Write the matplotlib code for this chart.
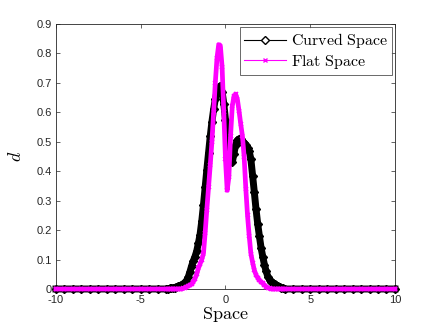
import numpy as np
import matplotlib
matplotlib.use('Agg')
import matplotlib.pyplot as plt
from matplotlib.lines import Line2D

plt.rcParams['font.family'] = ['Liberation Sans', 'DejaVu Sans']
plt.rcParams['mathtext.fontset'] = 'cm'

# sampled positions (tails coarse, centre fine)
space_left = [-10, -9.5, -9, -8.5, -8, -7.5, -7, -6.5, -6, -5.5, -5, -4.5, -4]
space_mid = [-3.5, -3.4, -3.3, -3.2, -3.1, -3.0, -2.9, -2.8, -2.7, -2.6,
             -2.5, -2.4, -2.3, -2.2, -2.1, -2.0, -1.9, -1.8, -1.7, -1.6,
             -1.5, -1.4, -1.3, -1.2, -1.1, -1.0, -0.9, -0.8, -0.7, -0.6,
             -0.5, -0.4, -0.3, -0.2, -0.1, 0.0, 0.1, 0.2, 0.3, 0.4,
             0.5, 0.6, 0.7, 0.8, 0.9, 1.0, 1.1, 1.2, 1.3, 1.4,
             1.5, 1.6, 1.7, 1.8, 1.9, 2.0, 2.1, 2.2, 2.3, 2.4,
             2.5, 2.6, 2.7, 2.8, 2.9, 3.0, 3.1, 3.2, 3.3, 3.4, 3.5]
space_right = [4, 4.5, 5, 5.5, 6, 6.5, 7, 7.5, 8, 8.5, 9, 9.5, 10]

curved_left = [0, 0, 0, 0, 0, 0, 0, 0, 0, 0, 0, 0, 0]
curved_mid = [0.000, 0.001, 0.002, 0.003, 0.004, 0.005, 0.007, 0.009, 0.011, 0.014,
              0.017, 0.022, 0.028, 0.040, 0.058, 0.078, 0.095, 0.110, 0.128, 0.155,
              0.185, 0.230, 0.285, 0.345, 0.405, 0.462, 0.518, 0.568, 0.610, 0.645,
              0.670, 0.685, 0.690, 0.670, 0.630, 0.575, 0.520, 0.470, 0.435, 0.430,
              0.460, 0.490, 0.505, 0.510, 0.508, 0.503, 0.497, 0.490, 0.480, 0.468,
              0.440, 0.385, 0.330, 0.272, 0.222, 0.180, 0.140, 0.110, 0.082, 0.060,
              0.042, 0.032, 0.025, 0.020, 0.016, 0.012, 0.009, 0.006, 0.004, 0.002, 0.000]
curved_right = [0, 0, 0, 0, 0, 0, 0, 0, 0, 0, 0, 0, 0]

flat_left = [0, 0, 0, 0, 0, 0, 0, 0, 0, 0, 0, 0, 0]
flat_mid = [0.000, 0.000, 0.000, 0.000, 0.000, 0.000, 0.000, 0.000, 0.000, 0.000,
            0.002, 0.004, 0.007, 0.010, 0.013, 0.017, 0.024, 0.035, 0.050, 0.070,
            0.085, 0.100, 0.120, 0.190, 0.270, 0.345, 0.420, 0.500, 0.600, 0.700,
            0.785, 0.830, 0.825, 0.755, 0.600, 0.440, 0.335, 0.380, 0.520, 0.620,
            0.655, 0.662, 0.645, 0.605, 0.560, 0.520, 0.450, 0.340, 0.250, 0.180,
            0.120, 0.090, 0.065, 0.048, 0.038, 0.030, 0.024, 0.019, 0.013, 0.008,
            0.004, 0.002, 0.000, 0.000, 0.000, 0.000, 0.000, 0.000, 0.000, 0.000, 0.000]
flat_right = [0, 0, 0, 0, 0, 0, 0, 0, 0, 0, 0, 0, 0]

space = space_left + space_mid + space_right
curved = curved_left + curved_mid + curved_right
flat = flat_left + flat_mid + flat_right

x_ticks = [-10, -5, 0, 5, 10]
y_ticks = [0, 0.1, 0.2, 0.3, 0.4, 0.5, 0.6, 0.7, 0.8, 0.9]
y_ticklabels = ['0', '0.1', '0.2', '0.3', '0.4', '0.5', '0.6', '0.7', '0.8', '0.9']

MAGENTA = '#ff00ff'
AXCOL = '#262626'

fig = plt.figure(figsize=(4.36, 3.27), dpi=100)
ax = fig.add_axes([0.1284, 0.1162, 0.7775, 0.8104])

# dense marker band -> thick line + markers
ax.plot(space, curved, color='black', linewidth=5, marker='D', markersize=4,
        markerfacecolor='black', markeredgecolor='black', clip_on=False, zorder=3)
ax.plot(space, flat, color=MAGENTA, linewidth=3.4, marker='x', markersize=3.5,
        markeredgewidth=1.1, clip_on=False, zorder=4)

ax.set_xlim(-10, 10)
ax.set_ylim(0, 0.9)
ax.set_xticks(x_ticks)
ax.set_xticklabels([str(t) for t in x_ticks])
ax.set_yticks(y_ticks)
ax.set_yticklabels(y_ticklabels)
ax.tick_params(direction='in', top=True, right=True, length=3, width=0.5,
               labelsize=8, colors=AXCOL)
ax.tick_params(axis='x', pad=4)
ax.tick_params(axis='y', pad=3)
for s in ax.spines.values():
    s.set_linewidth(0.6)
    s.set_color(AXCOL)

ax.set_xlabel(r'$\mathrm{Space}$', fontsize=13, labelpad=0)
ax.set_ylabel(r'$d$', fontsize=13, labelpad=8)

handles = [
    Line2D([], [], color='black', linewidth=0.8, marker='D', markersize=4.5,
           markerfacecolor='white', markeredgecolor='black'),
    Line2D([], [], color=MAGENTA, linewidth=0.8, marker='x', markersize=3.5,
           markeredgewidth=1.0),
]
leg = ax.legend(handles, [r'$\mathrm{Curved\ Space}$', r'$\mathrm{Flat\ Space}$'],
                loc='upper right', fontsize=11.5, frameon=True, fancybox=False,
                borderpad=0.25, handlelength=2.6, handletextpad=0.3,
                labelspacing=0.15, borderaxespad=0.2)
leg.get_frame().set_edgecolor(AXCOL)
leg.get_frame().set_linewidth(0.6)

fig.savefig('out.png', dpi=100)
